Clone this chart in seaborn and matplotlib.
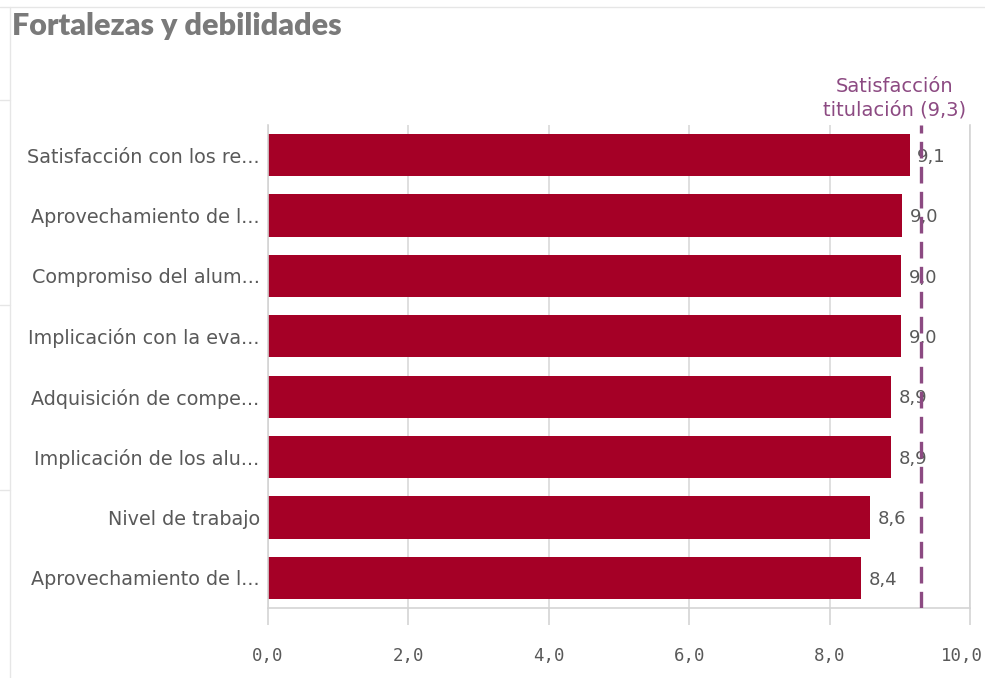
import matplotlib
matplotlib.use("Agg")
import matplotlib.pyplot as plt
import seaborn as sns
import pandas as pd
from matplotlib.lines import Line2D
from matplotlib.transforms import blended_transform_factory, ScaledTranslation

categories = [
    "Satisfacción con los re...",
    "Aprovechamiento de l...",
    "Compromiso del alum...",
    "Implicación con la eva...",
    "Adquisición de compe...",
    "Implicación de los alu...",
    "Nivel de trabajo",
    "Aprovechamiento de l...",
]
values = [9.14, 9.03, 9.02, 9.02, 8.88, 8.88, 8.58, 8.45]
reference_value = 9.3
reference_label = "Satisfacción\ntitulación (9,3)"
x_ticks = [0, 2, 4, 6, 8, 10]
title = "Fortalezas y debilidades"

sns.set_theme(style="white")
plt.rcParams["font.family"] = ["DejaVu Sans"]

df = pd.DataFrame({"cat": [f"{i}" for i in range(len(categories))], "val": values})

fig = plt.figure(figsize=(9.85, 6.78), dpi=100)
ax = fig.add_axes([268 / 985, 1 - 608 / 678, 702 / 985, 483 / 678])

sns.barplot(data=df, x="val", y="cat", orient="h", color="#a50026",
            saturation=1, width=0.70, ax=ax, edgecolor="none")

ax.set_xlim(0, 10)
ax.set_xticks(x_ticks)
ax.set_xticklabels([f"{t:.1f}".replace(".", ",") for t in x_ticks],
                   family="DejaVu Sans Mono", fontsize=12.5, color="#595959")
ax.set_yticks(range(len(categories)))
ax.set_yticklabels(categories, fontsize=13.8, color="#595959")
ax.set_xlabel("")
ax.set_ylabel("")

ax.grid(axis="x", color="#d9d9d9", linewidth=1.2)
ax.set_axisbelow(True)
ax.spines["top"].set_visible(False)
for s in ["left", "right", "bottom"]:
    ax.spines[s].set_color("#d4d4d4")
    ax.spines[s].set_linewidth(1.2)
ax.tick_params(axis="x", length=12, width=1.2, color="#d4d4d4", pad=16, bottom=True)
ax.tick_params(axis="y", length=0, pad=6)

last = ax.get_xticklabels()[-1]
last.set_transform(last.get_transform() + ScaledTranslation(-6 / 72, 0, fig.dpi_scale_trans))

# value labels
for i, v in enumerate(values):
    ax.text(v + 0.11, i + 0.03, f"{v:.1f}".replace(".", ","), va="center", ha="left",
            fontsize=13, color="#595959")

# reference line
ax.axvline(reference_value, color="#8c4a82", linewidth=2.4, linestyle=(0, (5, 2.5)),
           zorder=5)
trans = blended_transform_factory(ax.transData, ax.transAxes)
ax.text(8.92, 1.012, reference_label, transform=trans, ha="center", va="bottom",
        fontsize=14, color="#8c4a82", linespacing=1.3)

fig.text(12 / 985, 1 - 26 / 678, title, fontsize=22, fontweight="heavy",
         family="Lato", color="#7a7a7a", va="center", ha="left")

# faint UI frame lines
fig.add_artist(Line2D([0, 1], [1 - 7 / 678] * 2, color="#e6e6e6", lw=1))
fig.add_artist(Line2D([10 / 985] * 2, [0, 1 - 7 / 678], color="#e6e6e6", lw=1))
for yy in [100, 305, 490]:
    fig.add_artist(Line2D([0, 10 / 985], [1 - yy / 678] * 2, color="#e6e6e6", lw=1))

fig.savefig("out.png", dpi=100)
